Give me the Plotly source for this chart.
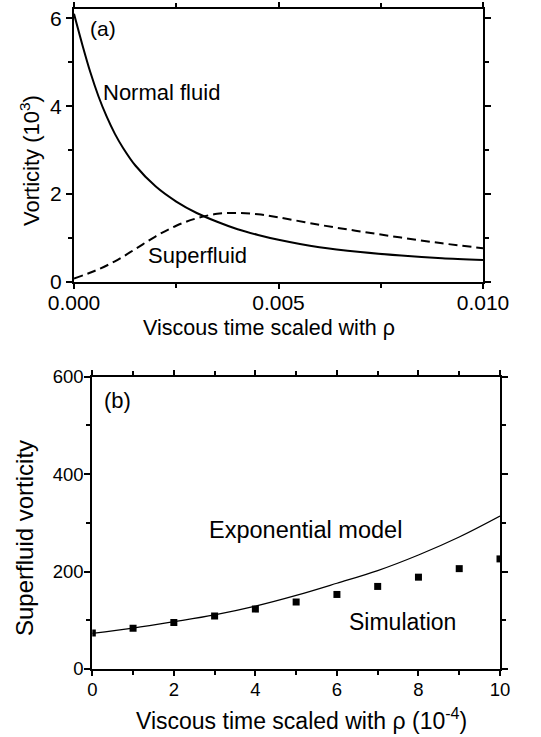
import plotly.graph_objects as go

W, H = 541, 737
FONT = "Liberation Sans, Arial, Helvetica, sans-serif"

# ---------------- panel (a) data ----------------
t_normal = [0, 0.0002, 0.0004, 0.0006, 0.0008, 0.001, 0.0012, 0.0015, 0.002, 0.0025,
            0.003, 0.0035, 0.004, 0.0045, 0.005, 0.006, 0.007, 0.008, 0.009, 0.010]
normal_fluid = [6.10, 5.41, 4.77, 4.22, 3.76, 3.37, 3.05, 2.65, 2.17, 1.83,
                1.57, 1.37, 1.20, 1.07, 0.96, 0.79, 0.68, 0.60, 0.54, 0.50]
t_super = [0, 0.0005, 0.001, 0.0015, 0.002, 0.0025, 0.003, 0.0035, 0.004, 0.0045,
           0.005, 0.006, 0.007, 0.008, 0.009, 0.010]
superfluid = [0.08, 0.25, 0.47, 0.75, 1.04, 1.28, 1.45, 1.55, 1.57, 1.54,
              1.47, 1.30, 1.15, 1.01, 0.88, 0.77]
a_xticks = [0, 0.005, 0.010]
a_xticklabels = ["0.000", "0.005", "0.010"]
a_yticks = [0, 2, 4, 6]
a_yticklabels = ["0", "2", "4", "6"]

# ---------------- panel (b) data ----------------
t_b = [0, 1, 2, 3, 4, 5, 6, 7, 8, 9, 10]
exp_model = [73, 84, 97, 111, 129, 151, 176, 202, 234, 271, 314]
simulation = [74, 83.5, 95.5, 109, 123, 137.5, 153, 169.5, 188.5, 206, 226]
b_xticks = [0, 2, 4, 6, 8, 10]
b_xticklabels = ["0", "2", "4", "6", "8", "10"]
b_yticks = [0, 200, 400, 600]
b_yticklabels = ["0", "200", "400", "600"]

# plot-area boxes in pixels (left, right, top, bottom)
A = (74, 483, 9, 282)
B = (92.3, 500, 376.7, 669)


def px(x):
    return x / W


def py(y):
    return 1 - y / H


fig = go.Figure()

fig.add_trace(go.Scatter(x=t_normal, y=normal_fluid, mode="lines", line_shape="spline",
                         line=dict(color="black", width=2, smoothing=0.8), xaxis="x", yaxis="y",
                         showlegend=False))
fig.add_trace(go.Scatter(x=t_super, y=superfluid, mode="lines", line_shape="spline",
                         line=dict(color="black", width=2, dash="9px,5px"), xaxis="x", yaxis="y",
                         showlegend=False))
fig.add_trace(go.Scatter(x=t_b, y=exp_model, mode="lines", line_shape="spline",
                         line=dict(color="black", width=1.2), xaxis="x2", yaxis="y2",
                         showlegend=False))
fig.add_trace(go.Scatter(x=t_b, y=simulation, mode="markers",
                         marker=dict(symbol="square", size=7, color="black"),
                         xaxis="x2", yaxis="y2", showlegend=False))

axis_common = dict(showline=True, linecolor="black", linewidth=2, mirror="ticks",
                   ticks="outside", tickwidth=2, tickcolor="black", showgrid=False,
                   zeroline=False, fixedrange=True, automargin=False)

fig.update_layout(
    template="none",
    width=W, height=H, margin=dict(l=0, r=0, t=0, b=0, pad=0, autoexpand=False),
    paper_bgcolor="white", plot_bgcolor="white",
    font=dict(family=FONT, color="black"),
    xaxis=dict(axis_common, domain=[px(A[0]), px(A[1])], range=[0, 0.010], anchor="y",
               tickvals=a_xticks, ticktext=a_xticklabels, ticklen=5, ticklabelstandoff=-4,
               tickfont=dict(size=21),
               minor=dict(tickvals=[0.0025, 0.0075], ticklen=4, tickwidth=2,
                          tickcolor="black", ticks="outside", showgrid=False)),
    yaxis=dict(axis_common, domain=[py(A[3]), py(A[2])], range=[0, 6.21], anchor="x",
               tickvals=a_yticks, ticktext=a_yticklabels, ticklen=6,
               tickfont=dict(size=21),
               minor=dict(tickvals=[1, 3, 5], ticklen=4, tickwidth=2,
                          tickcolor="black", ticks="outside", showgrid=False)),
    xaxis2=dict(axis_common, domain=[px(B[0]), px(B[1])], range=[0, 10], anchor="y2",
                tickvals=b_xticks, ticktext=b_xticklabels, ticklen=5, ticklabelstandoff=-2,
                tickfont=dict(size=18.5),
                minor=dict(tickvals=[1, 3, 5, 7, 9], ticklen=4, tickwidth=2,
                           tickcolor="black", ticks="outside", showgrid=False)),
    yaxis2=dict(axis_common, domain=[py(B[3]), py(B[2])], range=[0, 600], anchor="x2",
                tickvals=b_yticks, ticktext=b_yticklabels, ticklen=6, ticklabelstandoff=-3,
                tickfont=dict(size=18.5),
                minor=dict(tickvals=[100, 300, 500], ticklen=4, tickwidth=2,
                           tickcolor="black", ticks="outside", showgrid=False)),
)


def note(text, x, y, size, xanchor="left", angle=0):
    fig.add_annotation(text=text, x=px(x), y=py(y), xref="paper", yref="paper",
                       xanchor=xanchor, yanchor="middle", showarrow=False,
                       textangle=angle, font=dict(size=size, family=FONT, color="black"))


# panel (a) texts
note("(a)", 88, 28, 21)
note("Normal fluid", 101, 93, 22)
note("Superfluid", 146, 256, 22)
note("Viscous time scaled with ρ", 268.5, 328, 21.5, xanchor="center")
note("Vorticity (10<sup>3</sup>)", 30, 161, 22, xanchor="center", angle=-90)

# panel (b) texts
note("(b)", 102, 400, 22)
note("Exponential model", 207, 530, 23.5)
note("Simulation", 347, 622, 23)
note("Viscous time scaled with ρ (10<sup>-4</sup>)", 301, 719, 23, xanchor="center")
note("Superfluid vorticity", 24, 538, 24, xanchor="center", angle=-90)

fig.write_html("out.html", config={"displayModeBar": False},
               post_script="document.body.style.margin='0';document.body.style.overflow='hidden';")
